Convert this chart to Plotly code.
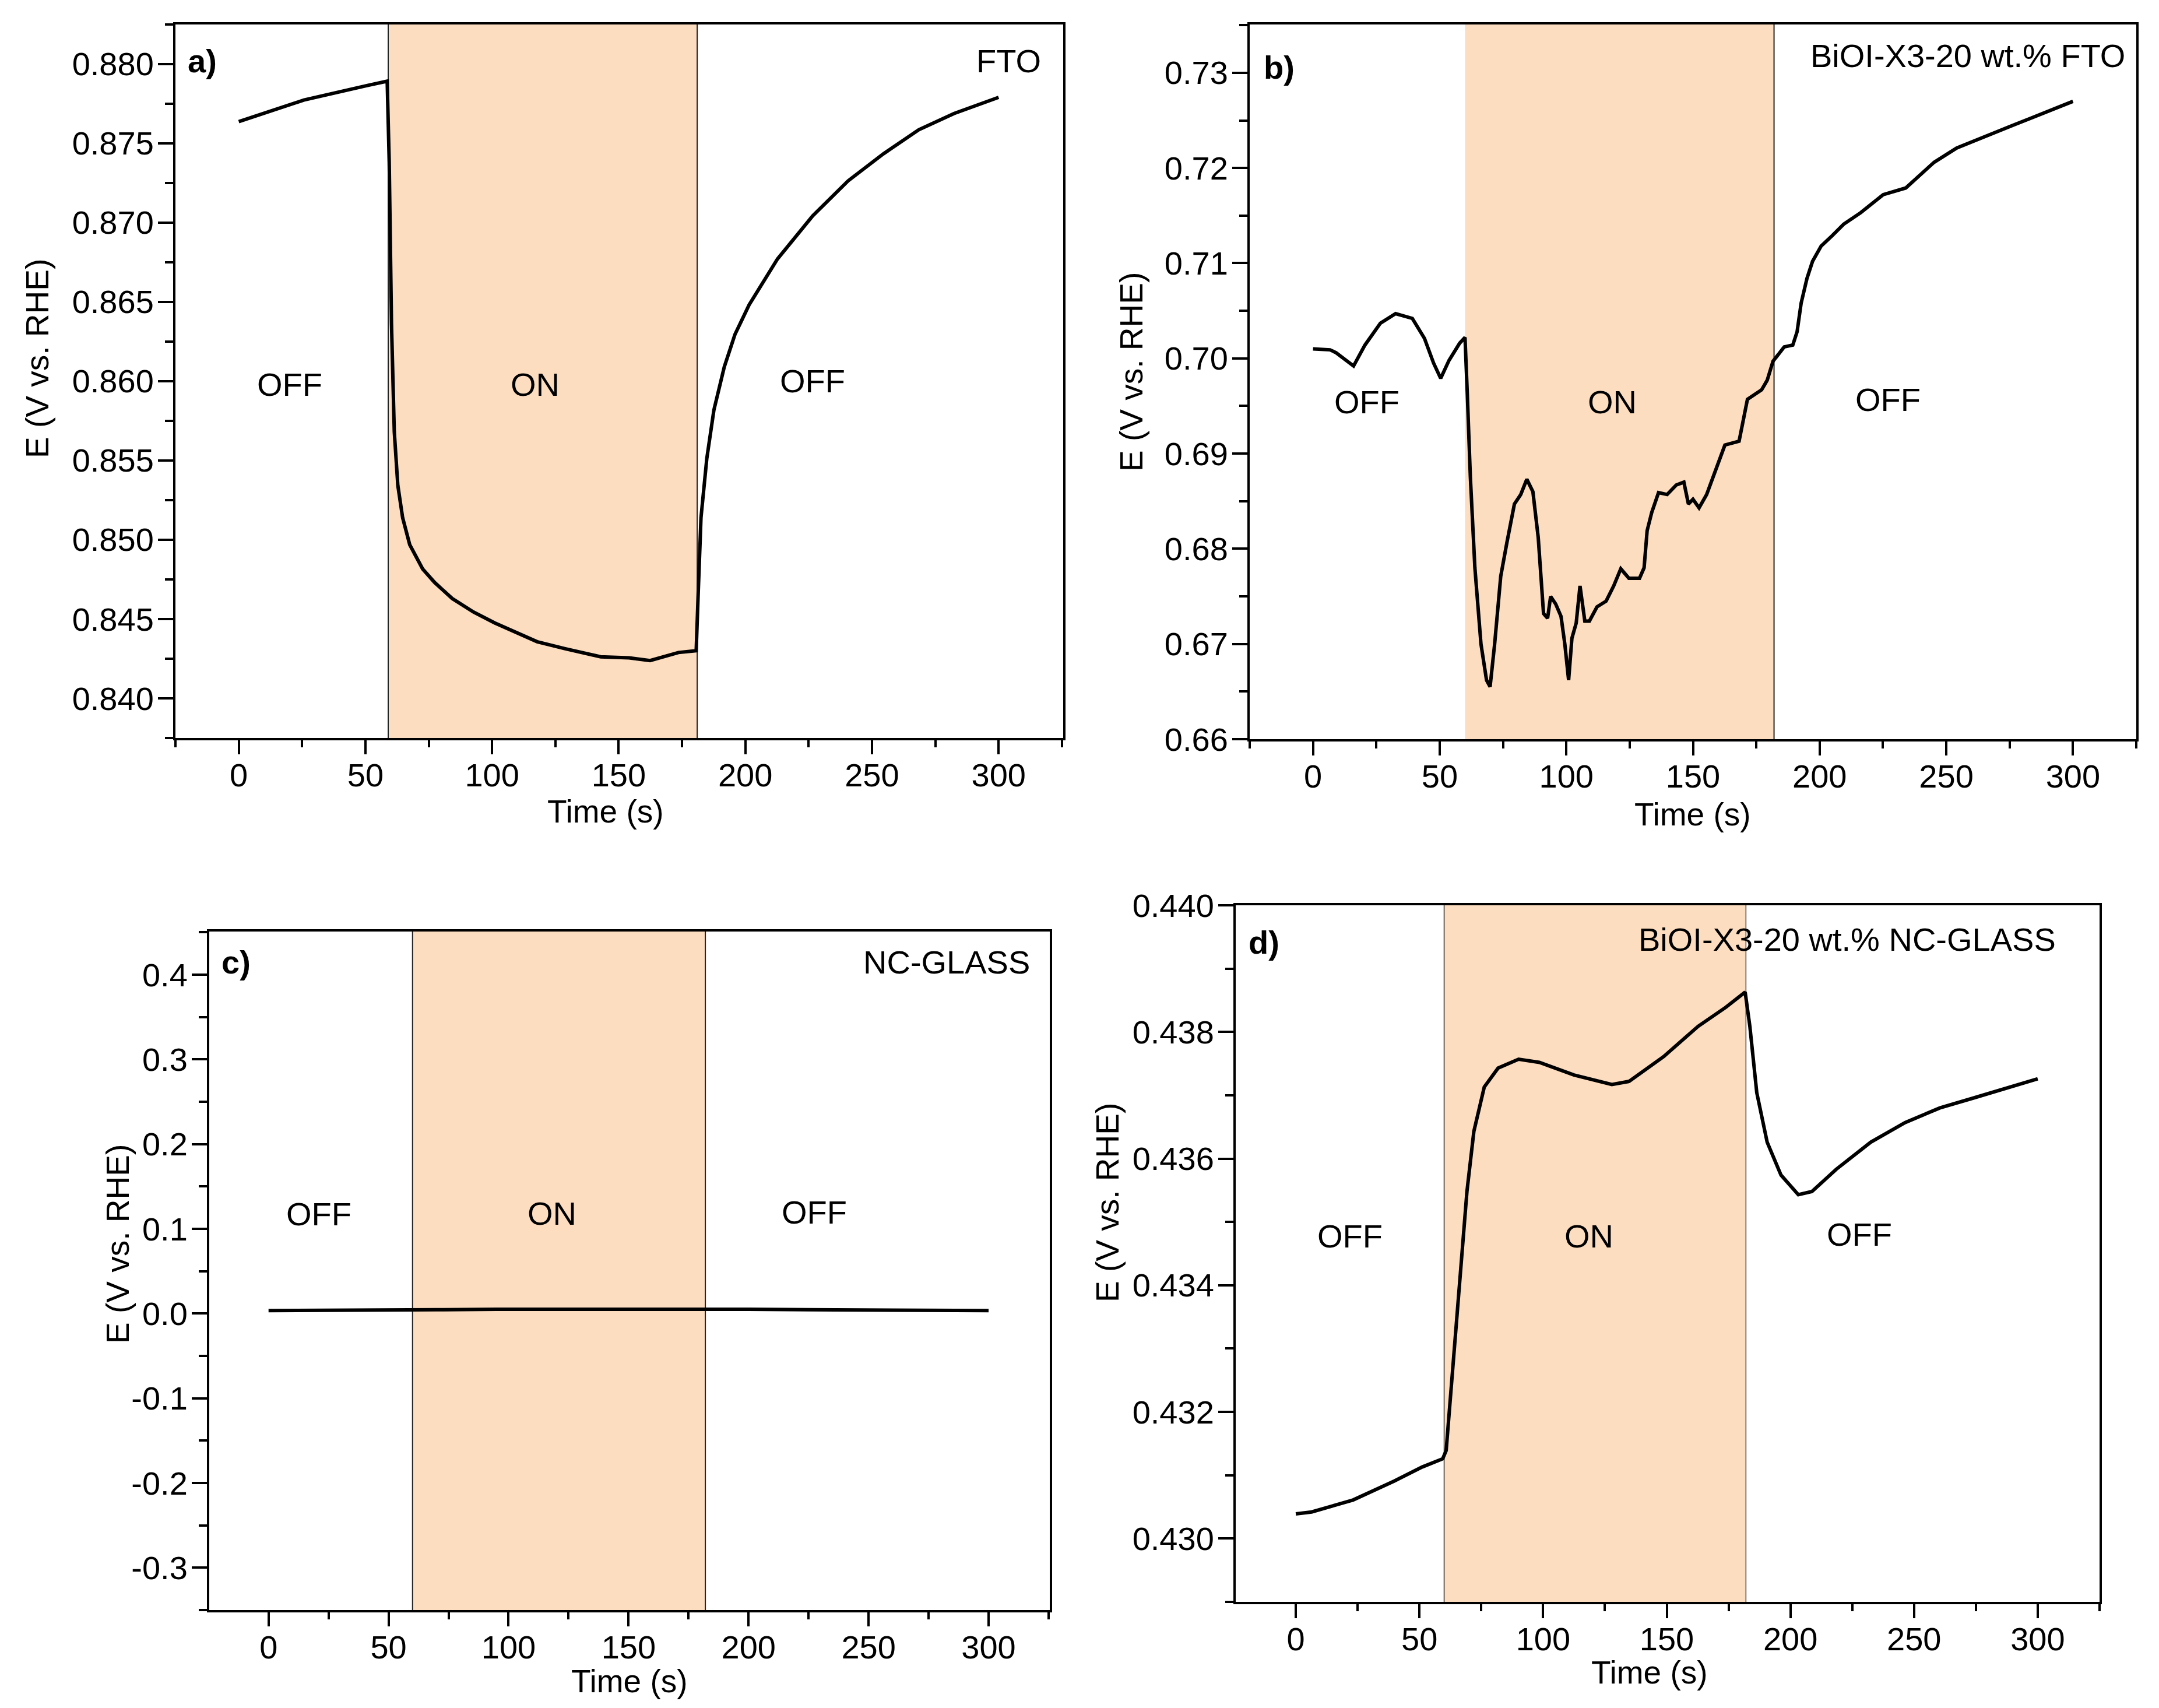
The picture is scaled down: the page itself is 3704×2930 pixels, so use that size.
import plotly.graph_objects as go

# ---------------- data ----------------
a_time = [0, 25.7, 50.8, 58.6, 59.4, 60.3, 61.4, 62.8, 64.7, 67.5, 72.6, 77.3, 84.3, 92.7, 101.0,
          117.8, 128.9, 142.9, 154.1, 162.4, 173.6, 180.6, 181.4, 182.5, 184.8, 187.6, 191.7,
          195.9, 201.5, 212.7, 226.6, 240.6, 254.5, 268.5, 282.4, 300]
a_E = [0.87636, 0.87772, 0.87864, 0.87891, 0.87381, 0.86362, 0.85682, 0.85343, 0.85139, 0.84969,
       0.84816, 0.84731, 0.84629, 0.84544, 0.84476, 0.84357, 0.84313, 0.84262, 0.84255, 0.84238,
       0.84289, 0.84300, 0.84663, 0.85139, 0.85513, 0.85818, 0.86090, 0.86294, 0.86481, 0.86770,
       0.87042, 0.87263, 0.87433, 0.87585, 0.87687, 0.87789]

b_time = [0, 6.7, 9.1, 16.0, 20.5, 26.6, 32.6, 39.2, 44.0, 47.6, 50.4, 53.7, 57.9, 60.0, 60.9,
          62.1, 63.9, 66.3, 68.5, 69.9, 71.7, 74.1, 76.5, 79.5, 82.0, 84.4, 86.8, 88.9, 91.0,
          92.6, 93.8, 95.8, 97.9, 99.4, 100.9, 102.2, 103.9, 105.4, 107.3, 109.1, 112.1, 115.7,
          118.7, 121.5, 124.7, 128.9, 130.7, 131.9, 133.7, 136.4, 139.8, 143.4, 146.4, 148.2,
          150.0, 152.4, 155.4, 159.0, 162.6, 168.2, 171.5, 177.1, 179.3, 181.6, 186.0, 189.4,
          191.1, 192.7, 195.0, 197.2, 200.6, 205.0, 209.5, 216.2, 225.1, 234.0, 245.2, 254.1,
          267.5, 276.4, 283.1, 294.3, 300.0]
b_E = [0.7010, 0.7009, 0.7006, 0.6992, 0.7014, 0.7037, 0.7047, 0.7042, 0.7021, 0.6995, 0.6979,
       0.6998, 0.7016, 0.7022, 0.6963, 0.6876, 0.6780, 0.6700, 0.6662, 0.6655, 0.6700, 0.6771,
       0.6806, 0.6847, 0.6857, 0.6873, 0.6860, 0.6812, 0.6732, 0.6727, 0.6750, 0.6742, 0.6729,
       0.6700, 0.6662, 0.6706, 0.6722, 0.6761, 0.6724, 0.6724, 0.6739, 0.6745, 0.6761, 0.6779,
       0.6769, 0.6769, 0.6780, 0.6819, 0.6838, 0.6859, 0.6857, 0.6867, 0.6870, 0.6847, 0.6852,
       0.6843, 0.6857, 0.6883, 0.6909, 0.6913, 0.6957, 0.6967, 0.6977, 0.6997, 0.7012, 0.7014,
       0.7028, 0.7058, 0.7084, 0.7102, 0.7118, 0.7129, 0.7141, 0.7153, 0.7172, 0.7179, 0.7206,
       0.7221, 0.7236, 0.7245, 0.7252, 0.7264, 0.7270]

c_time = [0, 60, 70, 95, 120, 182, 200, 225, 300]
c_E = [0.0035, 0.0035, 0.0045, 0.005, 0.005, 0.006, 0.005, 0.0045, 0.0035]

d_time = [0, 6.4, 23.2, 39.9, 51.1, 59.4, 60.8, 63.6, 66.4, 69.2, 72.0, 76.2, 81.8, 90.1, 98.5,
          112.5, 127.8, 134.8, 148.7, 162.7, 173.9, 181.7, 183.6, 186.4, 190.6, 196.2, 203.2,
          208.7, 218.5, 232.5, 246.4, 260.4, 274.3, 288.3, 300]
d_E = [0.43039, 0.43042, 0.43061, 0.43091, 0.43113, 0.43126, 0.43139, 0.43270, 0.43417, 0.43548,
       0.43643, 0.43713, 0.43743, 0.43757, 0.43752, 0.43732, 0.43717, 0.43722, 0.43761, 0.43809,
       0.43839, 0.43863, 0.43809, 0.43704, 0.43626, 0.43574, 0.43543, 0.43548, 0.43583, 0.43626,
       0.43657, 0.43680, 0.43696, 0.43713, 0.43726]

# light ON intervals (s)
on_a = [59, 181]
on_b = [60, 182]
on_c = [60, 182]
on_d = [60, 182]

x_ticks = [0, 50, 100, 150, 200, 250, 300]
x_ticklabels = ["0", "50", "100", "150", "200", "250", "300"]
a_yticks = [0.840, 0.845, 0.850, 0.855, 0.860, 0.865, 0.870, 0.875, 0.880]
a_yticklabels = ["0.840", "0.845", "0.850", "0.855", "0.860", "0.865", "0.870", "0.875", "0.880"]
b_yticks = [0.66, 0.67, 0.68, 0.69, 0.70, 0.71, 0.72, 0.73]
b_yticklabels = ["0.66", "0.67", "0.68", "0.69", "0.70", "0.71", "0.72", "0.73"]
c_yticks = [-0.3, -0.2, -0.1, 0.0, 0.1, 0.2, 0.3, 0.4]
c_yticklabels = ["-0.3", "-0.2", "-0.1", "0.0", "0.1", "0.2", "0.3", "0.4"]
d_yticks = [0.430, 0.432, 0.434, 0.436, 0.438, 0.440]
d_yticklabels = ["0.430", "0.432", "0.434", "0.436", "0.438", "0.440"]

panel_letters = ["a)", "b)", "c)", "d)"]
sample_names = ["FTO", "BiOI-X3-20 wt.% FTO", "NC-GLASS", "BiOI-X3-20 wt.% NC-GLASS"]
y_title = "E (V vs. RHE)"
x_title = "Time (s)"

# ---------------- style ----------------
W, H = 3704, 2930
OFF = 8  # page body margin
FONT = "Arial, Liberation Sans, sans-serif"
FS = 56
SHADE = "#FCDDC0"
BLACK = "#000000"

def px(x):
    return (x - OFF) / W

def py(y):
    return 1 - (y - OFF) / H

panels = [
    dict(xd=[px(301), px(1824)], yd=[py(1266), py(41.6)], xr=[-25, 325.5], yr=[0.8375, 0.8825],
         yt=a_yticks, ytl=a_yticklabels, ydm=0.0025, t=a_time, E=a_E, on=on_a,
         edges=["#222222", "#222222"],
         letter=(-14.5, 0.8802), name=(317.3, 0.8802),
         labels=[(20, 0.8598, "OFF"), (117, 0.8598, "ON"), (226.6, 0.8600, "OFF")],
         ytitle=(64, 615), xtitle=(1039, 1392)),
    dict(xd=[px(2144), px(3665)], yd=[py(1268), py(41.6)], xr=[-25, 325], yr=[0.66, 0.7351],
         yt=b_yticks, ytl=b_yticklabels, ydm=0.005, t=b_time, E=b_E, on=on_b,
         edges=[None, "#222222"],
         letter=(-13.3, 0.7306), name=(321.0, 0.7318),
         labels=[(21.2, 0.6954, "OFF"), (118.1, 0.6954, "ON"), (227, 0.6957, "OFF")],
         ytitle=(1941, 638), xtitle=(2904, 1397)),
    dict(xd=[px(359), px(1801)], yd=[py(2762), py(1598)], xr=[-24.7, 325.5], yr=[-0.35, 0.451],
         yt=c_yticks, ytl=c_yticklabels, ydm=0.05, t=c_time, E=c_E, on=on_c,
         edges=["#222222", "#222222"],
         letter=(-13.5, 0.415), name=(317.7, 0.415),
         labels=[(21, 0.1178, "OFF"), (118, 0.118, "ON"), (227.5, 0.1198, "OFF")],
         ytitle=(202, 2134), xtitle=(1080, 2884)),
    dict(xd=[px(2120), px(3602)], yd=[py(2748), py(1553)], xr=[-24.3, 325], yr=[0.429, 0.440],
         yt=d_yticks, ytl=d_yticklabels, ydm=0.001, t=d_time, E=d_E, on=on_d,
         edges=["#6e6358", "#8a7d70"],
         letter=(-12.9, 0.43942), name=(307.8, 0.43946),
         labels=[(22, 0.43478, "OFF"), (118.6, 0.43478, "ON"), (227.8, 0.4348, "OFF")],
         ytitle=(1900, 2063), xtitle=(2830, 2869)),
]

fig = go.Figure()
shapes = []
annotations = []
layout_axes = {}

for i, p in enumerate(panels):
    n = i + 1
    xa = "x" if n == 1 else f"x{n}"
    ya = "y" if n == 1 else f"y{n}"
    xkey = "xaxis" if n == 1 else f"xaxis{n}"
    ykey = "yaxis" if n == 1 else f"yaxis{n}"

    fig.add_trace(go.Scatter(x=p["t"], y=p["E"], mode="lines", xaxis=xa, yaxis=ya,
                             line=dict(color=BLACK, width=6), showlegend=False,
                             hoverinfo="skip"))

    common = dict(showline=True, linecolor=BLACK, linewidth=4, mirror=True,
                  showgrid=False, zeroline=False, ticks="outside", tickwidth=4,
                  tickcolor=BLACK, automargin=False,
                  tickfont=dict(family=FONT, size=FS, color=BLACK))
    layout_axes[xkey] = dict(common, domain=p["xd"], range=p["xr"], anchor=ya,
                             tickvals=x_ticks, ticktext=x_ticklabels, ticklen=24,
                             ticklabelstandoff=-12,
                             minor=dict(dtick=25, tick0=0, ticks="outside", ticklen=12,
                                        tickwidth=4, tickcolor=BLACK))
    layout_axes[ykey] = dict(common, domain=p["yd"], range=p["yr"], anchor=xa,
                             tickvals=p["yt"], ticktext=p["ytl"], ticklen=26,
                             ticklabelstandoff=-4,
                             minor=dict(dtick=p["ydm"], tick0=p["yt"][0], ticks="outside",
                                        ticklen=14, tickwidth=4, tickcolor=BLACK))

    # light-ON shading
    shapes.append(dict(type="rect", xref=xa, yref=f"{ya} domain", x0=p["on"][0], x1=p["on"][1],
                       y0=0, y1=1, fillcolor=SHADE, line=dict(width=0), layer="below"))
    for xe, col in zip(p["on"], p["edges"]):
        if col:
            shapes.append(dict(type="line", xref=xa, yref=f"{ya} domain", x0=xe, x1=xe,
                               y0=0, y1=1, line=dict(color=col, width=2), layer="below"))

    annotations.append(dict(xref=xa, yref=ya, x=p["letter"][0], y=p["letter"][1],
                            text=f"<b>{panel_letters[i]}</b>", showarrow=False,
                            xanchor="center", yanchor="middle",
                            font=dict(family=FONT, size=FS, color=BLACK)))
    annotations.append(dict(xref=xa, yref=ya, x=p["name"][0], y=p["name"][1],
                            text=sample_names[i], showarrow=False,
                            xanchor="right", yanchor="middle",
                            font=dict(family=FONT, size=FS, color=BLACK)))
    for (lx, ly, txt) in p["labels"]:
        annotations.append(dict(xref=xa, yref=ya, x=lx, y=ly, text=txt, showarrow=False,
                                xanchor="center", yanchor="middle",
                                font=dict(family=FONT, size=FS, color=BLACK)))
    annotations.append(dict(xref="paper", yref="paper", x=px(p["ytitle"][0]), y=py(p["ytitle"][1]),
                            text=y_title, textangle=-90, showarrow=False,
                            xanchor="center", yanchor="middle",
                            font=dict(family=FONT, size=FS - 1, color=BLACK)))
    annotations.append(dict(xref="paper", yref="paper", x=px(p["xtitle"][0]), y=py(p["xtitle"][1]),
                            text=x_title, showarrow=False,
                            xanchor="center", yanchor="middle",
                            font=dict(family=FONT, size=FS - 1, color=BLACK)))

fig.update_layout(width=W, height=H, autosize=False,
                  margin=dict(l=0, r=0, t=0, b=0, pad=0, autoexpand=False),
                  paper_bgcolor="white", plot_bgcolor="rgba(0,0,0,0)",
                  shapes=shapes, annotations=annotations, **layout_axes)

fig.write_html("out.html")
